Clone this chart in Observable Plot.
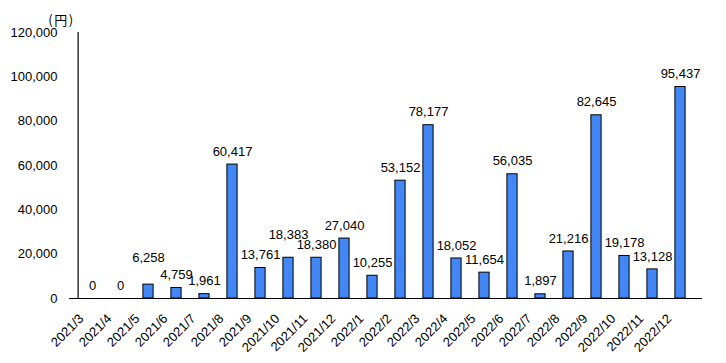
<!DOCTYPE html>
<html>
<head>
<meta charset="utf-8">
<script src="https://cdn.jsdelivr.net/npm/d3@7"></script>
<script src="https://cdn.jsdelivr.net/npm/@observablehq/plot@0.6"></script>
<style>
  html, body { margin: 0; padding: 0; background: #fff; }
  #chart svg { display: block; }
  .unit text { letter-spacing: 1.5px; }
</style>
</head>
<body>
<div id="chart"></div>
<script>
const months = ["2021/3","2021/4","2021/5","2021/6","2021/7","2021/8","2021/9","2021/10","2021/11","2021/12",
  "2022/1","2022/2","2022/3","2022/4","2022/5","2022/6","2022/7","2022/8","2022/9","2022/10","2022/11","2022/12"];
const values = [0,0,6258,4759,1961,60417,13761,18383,18380,27040,10255,53152,78177,18052,11654,56035,1897,21216,82645,19178,13128,95437];
const yTicks = [0,20000,40000,60000,80000,100000,120000];
const unitLabel = "(円)";

const data = months.map((m, i) => ({month: m, value: values[i]}));
// labels that the original lifts higher to avoid overlap
const lifted = {"2021/5": 14, "2021/10": 10};
const fmt = d3.format(",");
const font = "'Liberation Sans', Arial, sans-serif";

const W = 726, ML = 69, MR = 24;
const halfStep = (W - ML - MR) / months.length / 2;

const chart = Plot.plot({
  width: W,
  height: 363,
  marginLeft: ML,
  marginRight: MR,
  marginTop: 32,
  marginBottom: 65,
  style: {fontFamily: font, fontSize: "13px", color: "#000", background: "#fff"},
  x: {domain: months, padding: 0, label: null},
  y: {domain: [0, 120000], label: null},
  marks: [
    Plot.axisY({ticks: yTicks, tickFormat: fmt, tickSize: 0, tickPadding: 12, fontSize: 13, label: null, fill: "#000"}),
    Plot.axisX({tickRotate: -45, tickSize: 0, tickPadding: 18, dx: -11, fontSize: 13, label: null, fill: "#000"}),
    Plot.barY(data, {x: "month", y: "value", fill: "#4386F5", stroke: "#000", strokeWidth: 1, insetLeft: 8.9, insetRight: 8.9}),
    Plot.ruleY([0], {stroke: "#000", strokeWidth: 1.2}),
    Plot.ruleX([months[0]], {y1: 0, y2: 120000, dx: -halfStep, stroke: "#000", strokeWidth: 1.2}),
    Plot.text(data.filter(d => !lifted[d.month]), {x: "month", y: "value", text: d => fmt(d.value), dy: -13, fontSize: 13, fill: "#000"}),
    Plot.text(data.filter(d => lifted[d.month] === 14), {x: "month", y: "value", text: d => fmt(d.value), dy: -27, fontSize: 13, fill: "#000"}),
    Plot.text(data.filter(d => lifted[d.month] === 10), {x: "month", y: "value", text: d => fmt(d.value), dy: -23, fontSize: 13, fill: "#000"}),
    Plot.text([unitLabel], {frameAnchor: "top-left", textAnchor: "middle", dx: -8, dy: -17, text: d => d, fontSize: 13, fill: "#000", fontFamily: "'Noto Sans CJK JP', sans-serif", className: "unit"})
  ]
});
document.getElementById("chart").appendChild(chart);
</script>
</body>
</html>
